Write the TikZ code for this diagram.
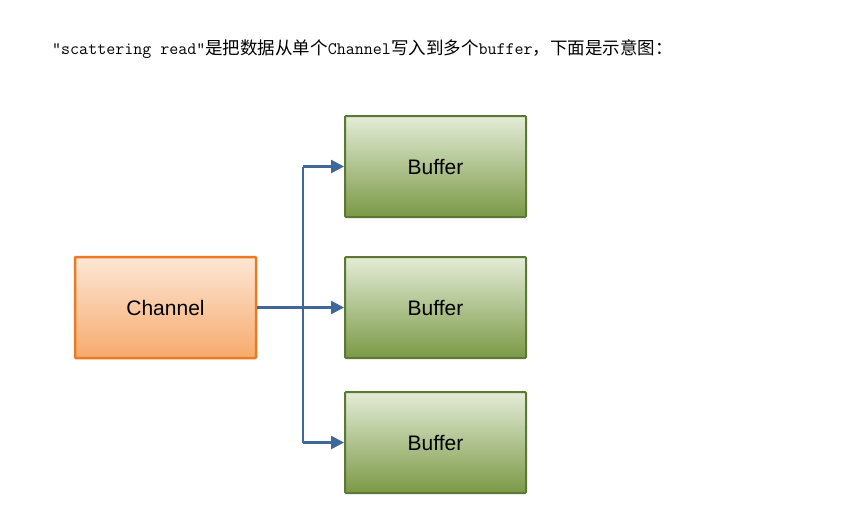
\documentclass[tikz,border=0pt]{standalone}
\usepackage{fontspec}
\setmainfont{Liberation Sans}
\newfontfamily\cjk{Noto Sans CJK SC}
\usetikzlibrary{arrows.meta}

\definecolor{chanline}{HTML}{EC7A22}
\definecolor{chantop}{HTML}{FDE7D6}
\definecolor{chanbot}{HTML}{F7AA6C}
\definecolor{bufline}{HTML}{5D7834}
\definecolor{buftop}{HTML}{E4ECD7}
\definecolor{bufbot}{HTML}{7A9946}
\definecolor{linkblue}{HTML}{3E679C}

\tikzset{
  box/.style={minimum width=181pt,minimum height=101pt,rounded corners=1pt,
    font=\fontsize{21}{24}\selectfont,inner sep=0pt},
  chanbox/.style={box,draw=chanline,line width=2.5pt,top color=chantop,bottom color=chanbot},
  bufbox/.style={box,draw=bufline,line width=2pt,top color=buftop,bottom color=bufbot},
  link/.style={draw=linkblue,line width=2.5pt}
}

\begin{document}
\begin{tikzpicture}[x=1pt,y=-1pt,>={Triangle[length=13pt,width=13pt]}]

    % Fondo
    \useasboundingbox[fill=white] (0,0) rectangle (858,507);

    % Titulo
    \node[anchor=west,inner sep=0pt,font=\fontsize{17.5}{20}\selectfont] (title) at (52,49)
      {\ttfamily "scattering read"\cjk 是把数据从单个\ttfamily Channel\cjk 写入到多个\ttfamily buffer\cjk ，下面是示意图：};

    % Cajas
    \node[chanbox] (chan) at (165.5,307.5) {Channel};
    \node[bufbox] (buf1) at (435.5,166.5) {Buffer};
    \node[bufbox] (buf2) at (435.5,307.5) {Buffer};
    \node[bufbox] (buf3) at (435.5,442.5) {Buffer};

    % Punto de reparto
    \coordinate (split) at (303,307.5);

    % Conexiones
    \draw[link] (split |- buf1.west) -- (split |- buf3.west);
    \draw[link,->] (split |- buf1.west) -- (buf1.west);
    \draw[link,->] (split |- buf3.west) -- (buf3.west);
    \draw[link,->] (split) -- (buf2.west);
    \draw[link,line width=3.5pt] (chan.east) -- (split);

\end{tikzpicture}
\end{document}
